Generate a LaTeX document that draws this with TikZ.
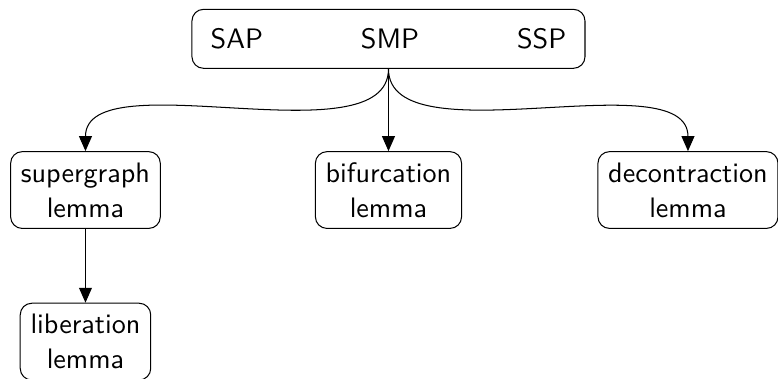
\documentclass[11pt,tikz,border=0pt]{standalone}
\usetikzlibrary{arrows.meta}

\begin{document}
\begin{tikzpicture}[
		>={Triangle[length=5.8pt, width=5pt]},
		% Rounded boxes for the lemmas
		lemmabox/.style={
				rectangle, rounded corners=4.5pt, draw=black,
				font=\sffamily, align=center, inner xsep=4pt,
				minimum height=1.05cm
			},
		% Wide box holding the three properties
		propbox/.style={
				rectangle, rounded corners=4.5pt, draw=black,
				font=\sffamily, minimum width=5.375cm, minimum height=0.807cm
			},
		% Arrows
		arrowdep/.style={->},
		arrowbend/.style={->, out=-90, in=90, looseness=0.75}
	]

	\useasboundingbox (-5.313, 0.531) rectangle (5.327, -4.639);

	% ==========================================
	% 1. PROPERTIES (TOP)
	% ==========================================
	\node[propbox] (props) at (0, 0) {SAP\hspace*{38.1pt}SMP\hspace*{38.1pt}SSP};

	% ==========================================
	% 2. LEMMAS
	% ==========================================
	\node[lemmabox] (supergraph) at (-4.144, -2.068) {supergraph\\lemma};
	\node[lemmabox] (bifurcation) at (0, -2.068) {bifurcation\\lemma};
	\node[lemmabox] (decontraction) at (4.096, -2.068) {decontraction\\lemma};
	\node[lemmabox] (liberation) at (-4.144, -4.141) {liberation\\lemma};

	% ==========================================
	% 3. DEPENDENCY ARROWS
	% ==========================================
	\draw[arrowbend] (props.south) to (supergraph.north);
	\draw[arrowdep] (props.south) -- (bifurcation.north);
	\draw[arrowbend] (props.south) to (decontraction.north);
	\draw[arrowdep] (supergraph.south) -- (liberation.north);

\end{tikzpicture}
\end{document}
